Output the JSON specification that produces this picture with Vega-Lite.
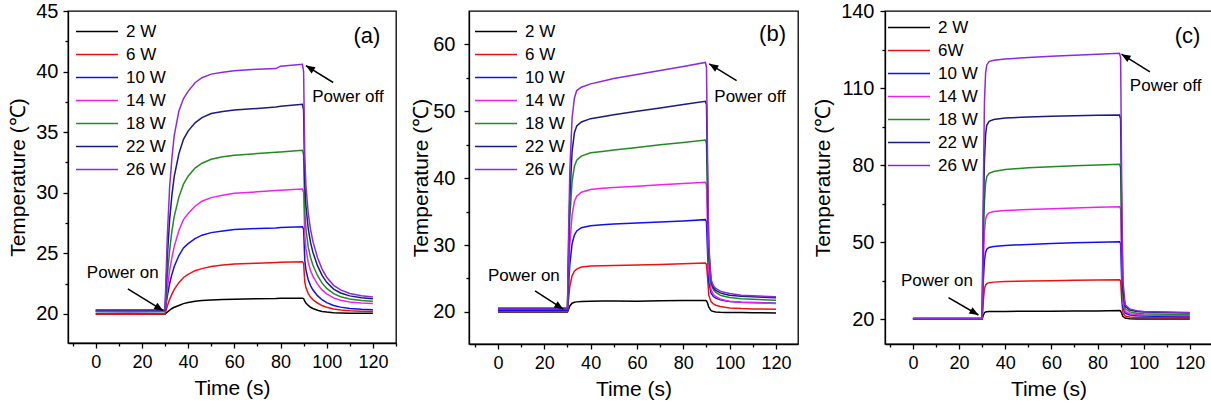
{
  "$schema": "https://vega.github.io/schema/vega-lite/v6.json",
  "padding": {"left": 7, "top": 0, "right": 0, "bottom": 0},
  "spacing": 12,
  "resolve": {"scale": {"color": "independent"}, "legend": {"color": "independent"}},
  "config": {
    "font": "Liberation Sans",
    "view": {"stroke": "#000", "strokeWidth": 1.3},
    "axis": {"grid": false, "domainColor": "#000", "tickColor": "#000", "labelColor": "#000", "titleColor": "#000", "labelFont": "Liberation Sans", "titleFont": "Liberation Sans", "titleFontWeight": "normal", "titleFontSize": 21, "domainWidth": 1.3, "tickWidth": 1.3, "labelFlush": false, "labelOverlap": false},
    "axisX": {"labelFontSize": 18},
    "axisY": {"labelFontSize": 20},
    "legend": {"orient": "none", "title": null, "labelFontSize": 17, "labelFont": "Liberation Sans", "labelColor": "#000", "labelAlign": "left", "symbolType": "stroke", "symbolSize": 1764, "clipHeight": 17, "symbolStrokeWidth": 1.5, "rowPadding": 5, "padding": 0, "labelOffset": 7, "symbolOffset": 0},
    "text": {"font": "Liberation Sans", "color": "#000"}
  },
  "datasets": {
    "a": [
      {"t":0,"2 W":20.0,"6 W":20.0,"10 W":20.2,"14 W":20.25,"18 W":20.2,"22 W":20.3,"26 W":20.35},
      {"t":15,"2 W":20.0,"6 W":19.98,"10 W":20.18,"14 W":20.25,"18 W":20.2,"22 W":20.3,"26 W":20.35},
      {"t":29.5,"2 W":20.0,"6 W":20.0,"10 W":20.2,"14 W":20.25,"18 W":20.2,"22 W":20.3,"26 W":20.35},
      {"t":30,"2 W":20.0,"6 W":20.0,"10 W":20.2,"14 W":20.25,"18 W":20.2,"22 W":20.3,"26 W":20.35},
      {"t":31,"2 W":20.15,"6 W":20.65,"10 W":21.46,"14 W":22.06,"18 W":23.13,"22 W":24.72,"26 W":26.43},
      {"t":32,"2 W":20.3,"6 W":21.2,"10 W":22.51,"14 W":23.57,"18 W":25.25,"22 W":27.78,"26 W":30.48},
      {"t":33,"2 W":20.45,"6 W":21.63,"10 W":23.28,"14 W":24.67,"18 W":26.85,"22 W":29.82,"26 W":32.9},
      {"t":34,"2 W":20.55,"6 W":22.02,"10 W":23.91,"14 W":25.58,"18 W":28.05,"22 W":31.35,"26 W":34.73},
      {"t":36,"2 W":20.7,"6 W":22.58,"10 W":24.82,"14 W":26.88,"18 W":29.64,"22 W":33.22,"26 W":36.75},
      {"t":38,"2 W":20.85,"6 W":23.01,"10 W":25.45,"14 W":27.79,"18 W":30.71,"22 W":34.41,"26 W":37.77},
      {"t":40,"2 W":20.95,"6 W":23.27,"10 W":25.8,"14 W":28.29,"18 W":31.37,"22 W":35.09,"26 W":38.37},
      {"t":43,"2 W":21.05,"6 W":23.57,"10 W":26.22,"14 W":28.89,"18 W":32.04,"22 W":35.77,"26 W":39.08},
      {"t":46,"2 W":21.1,"6 W":23.74,"10 W":26.5,"14 W":29.3,"18 W":32.44,"22 W":36.2,"26 W":39.49},
      {"t":50,"2 W":21.15,"6 W":23.91,"10 W":26.71,"14 W":29.6,"18 W":32.77,"22 W":36.54,"26 W":39.79},
      {"t":55,"2 W":21.2,"6 W":24.04,"10 W":26.85,"14 W":29.8,"18 W":32.97,"22 W":36.71,"26 W":39.95},
      {"t":60,"2 W":21.22,"6 W":24.11,"10 W":26.96,"14 W":29.95,"18 W":33.1,"22 W":36.82,"26 W":40.07},
      {"t":70,"2 W":21.25,"6 W":24.19,"10 W":27.05,"14 W":30.08,"18 W":33.23,"22 W":36.96,"26 W":40.2},
      {"t":78,"2 W":21.28,"6 W":24.24,"10 W":27.1,"14 W":30.18,"18 W":33.34,"22 W":37.08,"26 W":40.25},
      {"t":80,"2 W":21.3,"6 W":24.26,"10 W":27.13,"14 W":30.2,"18 W":33.37,"22 W":37.13,"26 W":40.45},
      {"t":89.5,"2 W":21.3,"6 W":24.3,"10 W":27.2,"14 W":30.3,"18 W":33.5,"22 W":37.3,"26 W":40.6},
      {"t":90,"2 W":21.26,"6 W":24.18,"10 W":27.0,"14 W":30.02,"18 W":33.13,"22 W":36.82,"26 W":40.02},
      {"t":90.5,"2 W":21.05,"6 W":22.66,"10 W":24.46,"14 W":26.52,"18 W":28.52,"22 W":30.88,"26 W":32.92},
      {"t":91,"2 W":20.9,"6 W":22.17,"10 W":23.64,"14 W":25.39,"18 W":27.03,"22 W":28.95,"26 W":30.62},
      {"t":92,"2 W":20.7,"6 W":21.68,"10 W":22.82,"14 W":24.25,"18 W":25.53,"22 W":27.03,"26 W":28.31},
      {"t":93,"2 W":20.55,"6 W":21.39,"10 W":22.34,"14 W":23.59,"18 W":24.66,"22 W":25.9,"26 W":26.97},
      {"t":94,"2 W":20.45,"6 W":21.18,"10 W":21.99,"14 W":23.12,"18 W":24.04,"22 W":25.1,"26 W":26.01},
      {"t":96,"2 W":20.3,"6 W":20.9,"10 W":21.51,"14 W":22.46,"18 W":23.17,"22 W":23.98,"26 W":24.66},
      {"t":98,"2 W":20.2,"6 W":20.69,"10 W":21.17,"14 W":21.98,"18 W":22.54,"22 W":23.18,"26 W":23.7},
      {"t":100,"2 W":20.15,"6 W":20.55,"10 W":20.93,"14 W":21.65,"18 W":22.11,"22 W":22.61,"26 W":23.03},
      {"t":103,"2 W":20.1,"6 W":20.41,"10 W":20.69,"14 W":21.32,"18 W":21.67,"22 W":22.05,"26 W":22.36},
      {"t":106,"2 W":20.08,"6 W":20.32,"10 W":20.56,"14 W":21.13,"18 W":21.42,"22 W":21.73,"26 W":21.98},
      {"t":110,"2 W":20.06,"6 W":20.26,"10 W":20.45,"14 W":20.99,"18 W":21.24,"22 W":21.49,"26 W":21.69},
      {"t":115,"2 W":20.05,"6 W":20.22,"10 W":20.38,"14 W":20.9,"18 W":21.11,"22 W":21.33,"26 W":21.5},
      {"t":120,"2 W":20.05,"6 W":20.2,"10 W":20.35,"14 W":20.85,"18 W":21.05,"22 W":21.25,"26 W":21.4}
    ],
    "b": [
      {"t":0,"2 W":20.0,"6 W":20.05,"10 W":20.25,"14 W":20.4,"18 W":20.4,"22 W":20.5,"26 W":20.6},
      {"t":15,"2 W":20.0,"6 W":20.05,"10 W":20.25,"14 W":20.4,"18 W":20.4,"22 W":20.5,"26 W":20.6},
      {"t":29.5,"2 W":20.0,"6 W":20.05,"10 W":20.25,"14 W":20.4,"18 W":20.4,"22 W":20.5,"26 W":20.6},
      {"t":30,"2 W":20.0,"6 W":20.05,"10 W":20.25,"14 W":20.4,"18 W":20.4,"22 W":20.5,"26 W":20.6},
      {"t":30.5,"2 W":20.4,"6 W":22.0,"10 W":24.0,"14 W":26.0,"18 W":28.0,"22 W":30.0,"26 W":32.0},
      {"t":31,"2 W":20.9,"6 W":23.8,"10 W":27.0,"14 W":30.0,"18 W":34.0,"22 W":37.0,"26 W":41.0},
      {"t":32,"2 W":21.3,"6 W":25.4,"10 W":30.2,"14 W":34.5,"18 W":39.5,"22 W":44.0,"26 W":49.0},
      {"t":33,"2 W":21.45,"6 W":26.1,"10 W":31.5,"14 W":36.5,"18 W":41.8,"22 W":46.8,"26 W":52.0},
      {"t":34,"2 W":21.5,"6 W":26.4,"10 W":32.1,"14 W":37.3,"18 W":42.7,"22 W":47.8,"26 W":53.1},
      {"t":36,"2 W":21.55,"6 W":26.7,"10 W":32.6,"14 W":37.9,"18 W":43.3,"22 W":48.4,"26 W":53.6},
      {"t":40,"2 W":21.6,"6 W":26.85,"10 W":32.9,"14 W":38.3,"18 W":43.8,"22 W":48.9,"26 W":54.1},
      {"t":45,"2 W":21.62,"6 W":26.9,"10 W":33.05,"14 W":38.5,"18 W":44.0,"22 W":49.2,"26 W":54.5},
      {"t":50,"2 W":21.62,"6 W":26.95,"10 W":33.15,"14 W":38.6,"18 W":44.2,"22 W":49.5,"26 W":54.9},
      {"t":60,"2 W":21.6,"6 W":27.0,"10 W":33.3,"14 W":38.8,"18 W":44.6,"22 W":50.0,"26 W":55.5},
      {"t":70,"2 W":21.65,"6 W":27.1,"10 W":33.45,"14 W":39.0,"18 W":45.0,"22 W":50.5,"26 W":56.1},
      {"t":80,"2 W":21.7,"6 W":27.2,"10 W":33.6,"14 W":39.2,"18 W":45.35,"22 W":51.0,"26 W":56.7},
      {"t":89.5,"2 W":21.7,"6 W":27.3,"10 W":33.8,"14 W":39.4,"18 W":45.7,"22 W":51.5,"26 W":57.3},
      {"t":90,"2 W":21.65,"6 W":27.1,"10 W":33.5,"14 W":39.0,"18 W":45.2,"22 W":51.0,"26 W":56.6},
      {"t":90.5,"2 W":21.3,"6 W":25.0,"10 W":28.5,"14 W":32.0,"18 W":36.0,"22 W":39.0,"26 W":42.0},
      {"t":91,"2 W":20.7,"6 W":22.5,"10 W":24.5,"14 W":26.0,"18 W":28.0,"22 W":29.0,"26 W":30.0},
      {"t":92,"2 W":20.2,"6 W":21.5,"10 W":22.8,"14 W":23.3,"18 W":24.2,"22 W":24.5,"26 W":24.8},
      {"t":93,"2 W":20.05,"6 W":21.2,"10 W":22.3,"14 W":22.6,"18 W":23.3,"22 W":23.6,"26 W":23.9},
      {"t":94,"2 W":20.0,"6 W":21.0,"10 W":22.05,"14 W":22.3,"18 W":22.9,"22 W":23.2,"26 W":23.5},
      {"t":96,"2 W":19.95,"6 W":20.8,"10 W":21.8,"14 W":21.95,"18 W":22.5,"22 W":22.85,"26 W":23.1},
      {"t":98,"2 W":19.92,"6 W":20.7,"10 W":21.65,"14 W":21.75,"18 W":22.3,"22 W":22.65,"26 W":22.9},
      {"t":100,"2 W":19.9,"6 W":20.6,"10 W":21.55,"14 W":21.6,"18 W":22.15,"22 W":22.5,"26 W":22.75},
      {"t":105,"2 W":19.9,"6 W":20.5,"10 W":21.45,"14 W":21.45,"18 W":21.95,"22 W":22.35,"26 W":22.5},
      {"t":110,"2 W":19.88,"6 W":20.45,"10 W":21.4,"14 W":21.38,"18 W":21.88,"22 W":22.25,"26 W":22.4},
      {"t":120,"2 W":19.85,"6 W":20.4,"10 W":21.3,"14 W":21.25,"18 W":21.75,"22 W":22.1,"26 W":22.25}
    ],
    "c": [
      {"t":0,"2 W":20.0,"6 W":20.0,"10 W":20.1,"14 W":20.1,"18 W":20.2,"22 W":20.2,"26 W":20.3},
      {"t":15,"2 W":20.0,"6 W":20.0,"10 W":20.1,"14 W":20.1,"18 W":20.2,"22 W":20.2,"26 W":20.3},
      {"t":29.5,"2 W":20.0,"6 W":20.0,"10 W":20.1,"14 W":20.1,"18 W":20.2,"22 W":20.2,"26 W":20.3},
      {"t":30,"2 W":20.0,"6 W":20.0,"10 W":20.1,"14 W":20.1,"18 W":20.2,"22 W":20.2,"26 W":20.3},
      {"t":30.5,"2 W":21.5,"6 W":27,"10 W":35,"14 W":42,"18 W":50,"22 W":60,"26 W":70},
      {"t":31,"2 W":22.5,"6 W":32,"10 W":43,"14 W":54,"18 W":66,"22 W":82,"26 W":105},
      {"t":31.5,"2 W":22.8,"6 W":33.3,"10 W":46,"14 W":59,"18 W":73,"22 W":92,"26 W":116},
      {"t":32,"2 W":22.9,"6 W":33.8,"10 W":47.2,"14 W":60.5,"18 W":75.5,"22 W":95.5,"26 W":119},
      {"t":33,"2 W":23.0,"6 W":34.2,"10 W":47.9,"14 W":61.4,"18 W":76.8,"22 W":97.0,"26 W":120.3},
      {"t":35,"2 W":23.0,"6 W":34.4,"10 W":48.3,"14 W":61.9,"18 W":77.5,"22 W":97.7,"26 W":120.8},
      {"t":40,"2 W":23.0,"6 W":34.6,"10 W":48.7,"14 W":62.3,"18 W":78.3,"22 W":98.3,"26 W":121.3},
      {"t":50,"2 W":23.1,"6 W":34.8,"10 W":49.1,"14 W":62.7,"18 W":78.9,"22 W":98.7,"26 W":121.9},
      {"t":60,"2 W":23.1,"6 W":34.95,"10 W":49.4,"14 W":63.0,"18 W":79.3,"22 W":99.0,"26 W":122.4},
      {"t":70,"2 W":23.2,"6 W":35.1,"10 W":49.7,"14 W":63.3,"18 W":79.7,"22 W":99.2,"26 W":122.8},
      {"t":80,"2 W":23.2,"6 W":35.2,"10 W":49.9,"14 W":63.6,"18 W":80.0,"22 W":99.4,"26 W":123.2},
      {"t":89.5,"2 W":23.3,"6 W":35.3,"10 W":50.1,"14 W":63.8,"18 W":80.3,"22 W":99.5,"26 W":123.5},
      {"t":90,"2 W":23.2,"6 W":35.0,"10 W":49.5,"14 W":63.0,"18 W":79.0,"22 W":98.0,"26 W":122.0},
      {"t":90.5,"2 W":22.2,"6 W":27,"10 W":34,"14 W":40,"18 W":48,"22 W":58,"26 W":70},
      {"t":91,"2 W":21.0,"6 W":22.5,"10 W":24.5,"14 W":26,"18 W":28,"22 W":31,"26 W":35},
      {"t":92,"2 W":20.4,"6 W":21.2,"10 W":22.3,"14 W":23.0,"18 W":24.0,"22 W":25.0,"26 W":25.6},
      {"t":94,"2 W":20.1,"6 W":20.8,"10 W":21.6,"14 W":22.1,"18 W":22.8,"22 W":23.5,"26 W":23.9},
      {"t":97,"2 W":20.0,"6 W":20.65,"10 W":21.35,"14 W":21.75,"18 W":22.3,"22 W":23.0,"26 W":23.3},
      {"t":100,"2 W":20.0,"6 W":20.6,"10 W":21.25,"14 W":21.6,"18 W":22.1,"22 W":22.8,"26 W":23.0},
      {"t":105,"2 W":20.0,"6 W":20.55,"10 W":21.15,"14 W":21.5,"18 W":22.0,"22 W":22.65,"26 W":22.85},
      {"t":110,"2 W":20.0,"6 W":20.52,"10 W":21.1,"14 W":21.4,"18 W":21.9,"22 W":22.55,"26 W":22.75},
      {"t":120,"2 W":20.0,"6 W":20.5,"10 W":21.0,"14 W":21.3,"18 W":21.8,"22 W":22.4,"26 W":22.6}
    ]
  },
  "hconcat": [
    {
      "width": 328, "height": 332,
      "resolve": {"axis": {"x": "independent", "y": "independent"}},
      "layer": [
        {
          "data": {"name": "a"},
          "transform": [{"fold": ["2 W","6 W","10 W","14 W","18 W","22 W","26 W"], "as": ["w","T"]}],
          "mark": {"type": "line", "strokeWidth": 1.5},
          "encoding": {
            "x": {"field": "t", "type": "quantitative", "scale": {"domain": [-12, 130], "nice": false, "zero": false}, "axis": {"orient": "bottom", "values": [0,20,40,60,80,100,120], "tickSize": 5, "labelPadding": 5, "title": "Time (s)", "titlePadding": 6}},
            "y": {"field": "T", "type": "quantitative", "scale": {"domain": [17.6, 45], "nice": false, "zero": false}, "axis": {"orient": "left", "values": [20,25,30,35,40,45], "tickSize": 5, "labelPadding": 5, "title": "Temperature (℃)", "titlePadding": 7}},
            "color": {"field": "w", "type": "nominal", "scale": {"domain": ["2 W","6 W","10 W","14 W","18 W","22 W","26 W"], "range": ["#000000","#ee1111","#1111ee","#ee22ee","#228b22","#1a1a80","#8a2be2"]}, "legend": {"legendX": 7, "legendY": 12}}
          }
        },
        {
          "data": {"values": [{}]},
          "mark": {"type": "rule", "strokeWidth": 1.5, "color": "#000"},
          "encoding": {
            "x": {"datum": 13.9, "type": "quantitative", "axis": {"orient": "bottom", "values": [-10,10,30,50,70,90,110,130], "labels": false, "domain": false, "tickSize": 3, "title": null}},
            "y": {"datum": 22.06, "type": "quantitative", "axis": {"orient": "left", "values": [22.5,27.5,32.5,37.5,42.5], "labels": false, "domain": false, "tickSize": 3, "title": null}},
            "x2": {"datum": 29.2}, "y2": {"datum": 20.27}
          }
        },
        {
          "data": {"values": [{}]},
          "mark": {"type": "rule", "strokeWidth": 1.5, "color": "#000"},
          "encoding": {
            "x": {"datum": 102.8, "type": "quantitative", "axis": null},
            "y": {"datum": 39.1, "type": "quantitative", "axis": null},
            "x2": {"datum": 91.0}, "y2": {"datum": 40.5}
          }
        },
        {
          "data": {"values": [{}]},
          "mark": {"type": "point", "shape": "M0,0L-0.45,1.1L0.45,1.1Z", "size": 270, "filled": true, "color": "#000", "opacity": 1, "strokeWidth": 0, "angle": 121.6},
          "encoding": {"x": {"datum": 29.2, "type": "quantitative", "axis": null}, "y": {"datum": 20.27, "type": "quantitative", "axis": null}}
        },
        {
          "data": {"values": [{}]},
          "mark": {"type": "point", "shape": "M0,0L-0.45,1.1L0.45,1.1Z", "size": 270, "filled": true, "color": "#000", "opacity": 1, "strokeWidth": 0, "angle": 302},
          "encoding": {"x": {"datum": 91.0, "type": "quantitative", "axis": null}, "y": {"datum": 40.5, "type": "quantitative", "axis": null}}
        },
        {
          "data": {"values": [{}]},
          "mark": {"type": "text", "text": "Power on", "fontSize": 17, "align": "center", "baseline": "middle"},
          "encoding": {"x": {"datum": 11.7, "type": "quantitative", "axis": null}, "y": {"datum": 23.4, "type": "quantitative", "axis": null}}
        },
        {
          "data": {"values": [{}]},
          "mark": {"type": "text", "text": "Power off", "fontSize": 17, "align": "center", "baseline": "middle"},
          "encoding": {"x": {"datum": 109.2, "type": "quantitative", "axis": null}, "y": {"datum": 37.9, "type": "quantitative", "axis": null}}
        },
        {
          "data": {"values": [{}]},
          "mark": {"type": "text", "text": "(a)", "fontSize": 22, "align": "center", "baseline": "middle"},
          "encoding": {"x": {"datum": 117.4, "type": "quantitative", "axis": null}, "y": {"datum": 42.9, "type": "quantitative", "axis": null}}
        }
      ]
    },
    {
      "width": 329, "height": 333,
      "resolve": {"axis": {"x": "independent", "y": "independent"}},
      "layer": [
        {
          "data": {"name": "b"},
          "transform": [{"fold": ["2 W","6 W","10 W","14 W","18 W","22 W","26 W"], "as": ["w","T"]}],
          "mark": {"type": "line", "strokeWidth": 1.5},
          "encoding": {
            "x": {"field": "t", "type": "quantitative", "scale": {"domain": [-12.5, 129.5], "nice": false, "zero": false}, "axis": {"orient": "bottom", "values": [0,20,40,60,80,100,120], "tickSize": 5, "labelPadding": 5, "title": "Time (s)", "titlePadding": 6}},
            "y": {"field": "T", "type": "quantitative", "scale": {"domain": [15.2, 65], "nice": false, "zero": false}, "axis": {"orient": "left", "values": [20,30,40,50,60], "tickSize": 5, "labelPadding": 9, "title": "Temperature (℃)", "titlePadding": 1}},
            "color": {"field": "w", "type": "nominal", "scale": {"domain": ["2 W","6 W","10 W","14 W","18 W","22 W","26 W"], "range": ["#000000","#ee1111","#1111ee","#ee22ee","#228b22","#1a1a80","#8a2be2"]}, "legend": {"legendX": 5, "legendY": 12}}
          }
        },
        {
          "data": {"values": [{}]},
          "mark": {"type": "rule", "strokeWidth": 1.5, "color": "#000"},
          "encoding": {
            "x": {"datum": 16.0, "type": "quantitative", "axis": {"orient": "bottom", "values": [-10,10,30,50,70,90,110], "labels": false, "domain": false, "tickSize": 3, "title": null}},
            "y": {"datum": 23.15, "type": "quantitative", "axis": {"orient": "left", "values": [25,35,45,55], "labels": false, "domain": false, "tickSize": 3, "title": null}},
            "x2": {"datum": 28.2}, "y2": {"datum": 20.4}
          }
        },
        {
          "data": {"values": [{}]},
          "mark": {"type": "rule", "strokeWidth": 1.5, "color": "#000"},
          "encoding": {
            "x": {"datum": 103.0, "type": "quantitative", "axis": null},
            "y": {"datum": 54.6, "type": "quantitative", "axis": null},
            "x2": {"datum": 91.2}, "y2": {"datum": 57.1}
          }
        },
        {
          "data": {"values": [{}]},
          "mark": {"type": "point", "shape": "M0,0L-0.45,1.1L0.45,1.1Z", "size": 270, "filled": true, "color": "#000", "opacity": 1, "strokeWidth": 0, "angle": 122.9},
          "encoding": {"x": {"datum": 28.2, "type": "quantitative", "axis": null}, "y": {"datum": 20.4, "type": "quantitative", "axis": null}}
        },
        {
          "data": {"values": [{}]},
          "mark": {"type": "point", "shape": "M0,0L-0.45,1.1L0.45,1.1Z", "size": 270, "filled": true, "color": "#000", "opacity": 1, "strokeWidth": 0, "angle": 301.4},
          "encoding": {"x": {"datum": 91.2, "type": "quantitative", "axis": null}, "y": {"datum": 57.1, "type": "quantitative", "axis": null}}
        },
        {
          "data": {"values": [{}]},
          "mark": {"type": "text", "text": "Power on", "fontSize": 17, "align": "center", "baseline": "middle"},
          "encoding": {"x": {"datum": 11.2, "type": "quantitative", "axis": null}, "y": {"datum": 25.3, "type": "quantitative", "axis": null}}
        },
        {
          "data": {"values": [{}]},
          "mark": {"type": "text", "text": "Power off", "fontSize": 17, "align": "center", "baseline": "middle"},
          "encoding": {"x": {"datum": 108.8, "type": "quantitative", "axis": null}, "y": {"datum": 52.2, "type": "quantitative", "axis": null}}
        },
        {
          "data": {"values": [{}]},
          "mark": {"type": "text", "text": "(b)", "fontSize": 22, "align": "center", "baseline": "middle"},
          "encoding": {"x": {"datum": 118.5, "type": "quantitative", "axis": null}, "y": {"datum": 61.5, "type": "quantitative", "axis": null}}
        }
      ]
    },
    {
      "width": 327, "height": 333,
      "resolve": {"axis": {"x": "independent", "y": "independent"}},
      "layer": [
        {
          "data": {"name": "c"},
          "transform": [{"fold": ["2 W","6 W","10 W","14 W","18 W","22 W","26 W"], "as": ["w","T"]}],
          "mark": {"type": "line", "strokeWidth": 1.5},
          "encoding": {
            "x": {"field": "t", "type": "quantitative", "scale": {"domain": [-12.1, 129.6], "nice": false, "zero": false}, "axis": {"orient": "bottom", "values": [0,20,40,60,80,100,120], "tickSize": 5, "labelPadding": 5, "title": "Time (s)", "titlePadding": 6}},
            "y": {"field": "T", "type": "quantitative", "scale": {"domain": [10.3, 140], "nice": false, "zero": false}, "axis": {"orient": "left", "values": [20,50,80,110,140], "tickSize": 5, "labelPadding": 6, "title": "Temperature (℃)", "titlePadding": 7}},
            "color": {"field": "w", "type": "nominal", "scale": {"domain": ["2 W","6 W","10 W","14 W","18 W","22 W","26 W"], "range": ["#000000","#ee1111","#1111ee","#ee22ee","#228b22","#1a1a80","#8a2be2"]}, "legend": {"legendX": 2, "legendY": 8, "labelExpr": "datum.label == '6 W' ? '6W' : datum.label"}}
          }
        },
        {
          "data": {"values": [{}]},
          "mark": {"type": "rule", "strokeWidth": 1.5, "color": "#000"},
          "encoding": {
            "x": {"datum": 15.4, "type": "quantitative", "axis": {"orient": "bottom", "values": [-10,10,30,50,70,90,110], "labels": false, "domain": false, "tickSize": 3, "title": null}},
            "y": {"datum": 28.4, "type": "quantitative", "axis": {"orient": "left", "values": [35,65,95,125], "labels": false, "domain": false, "tickSize": 3, "title": null}},
            "x2": {"datum": 28.4}, "y2": {"datum": 21.6}
          }
        },
        {
          "data": {"values": [{}]},
          "mark": {"type": "rule", "strokeWidth": 1.5, "color": "#000"},
          "encoding": {
            "x": {"datum": 102.7, "type": "quantitative", "axis": null},
            "y": {"datum": 116.3, "type": "quantitative", "axis": null},
            "x2": {"datum": 90.4}, "y2": {"datum": 123.2}
          }
        },
        {
          "data": {"values": [{}]},
          "mark": {"type": "point", "shape": "M0,0L-0.45,1.1L0.45,1.1Z", "size": 270, "filled": true, "color": "#000", "opacity": 1, "strokeWidth": 0, "angle": 120.5},
          "encoding": {"x": {"datum": 28.4, "type": "quantitative", "axis": null}, "y": {"datum": 21.6, "type": "quantitative", "axis": null}}
        },
        {
          "data": {"values": [{}]},
          "mark": {"type": "point", "shape": "M0,0L-0.45,1.1L0.45,1.1Z", "size": 270, "filled": true, "color": "#000", "opacity": 1, "strokeWidth": 0, "angle": 302},
          "encoding": {"x": {"datum": 90.4, "type": "quantitative", "axis": null}, "y": {"datum": 123.2, "type": "quantitative", "axis": null}}
        },
        {
          "data": {"values": [{}]},
          "mark": {"type": "text", "text": "Power on", "fontSize": 17, "align": "center", "baseline": "middle"},
          "encoding": {"x": {"datum": 10.4, "type": "quantitative", "axis": null}, "y": {"datum": 34.9, "type": "quantitative", "axis": null}}
        },
        {
          "data": {"values": [{}]},
          "mark": {"type": "text", "text": "Power off", "fontSize": 17, "align": "center", "baseline": "middle"},
          "encoding": {"x": {"datum": 109.5, "type": "quantitative", "axis": null}, "y": {"datum": 110.6, "type": "quantitative", "axis": null}}
        },
        {
          "data": {"values": [{}]},
          "mark": {"type": "text", "text": "(c)", "fontSize": 22, "align": "center", "baseline": "middle"},
          "encoding": {"x": {"datum": 119.0, "type": "quantitative", "axis": null}, "y": {"datum": 130.4, "type": "quantitative", "axis": null}}
        }
      ]
    }
  ]
}
